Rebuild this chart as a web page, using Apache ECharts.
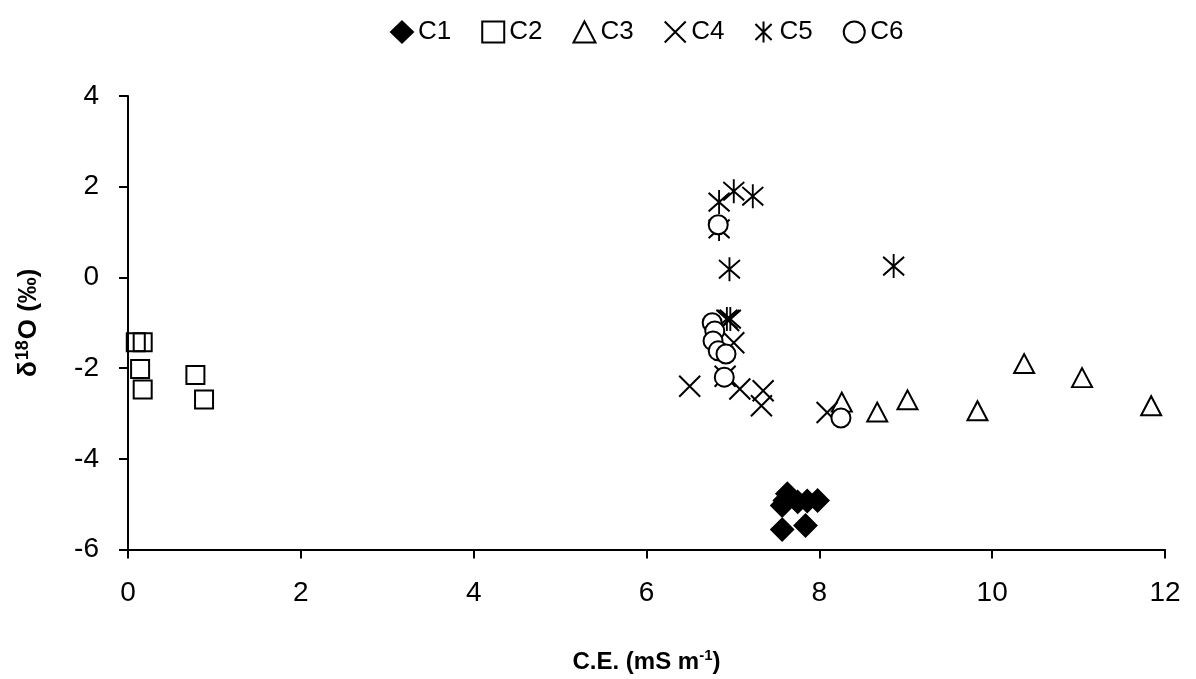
<!DOCTYPE html>
<html>
<head>
<meta charset="utf-8">
<script src="https://cdn.jsdelivr.net/npm/echarts@6/dist/echarts.min.js"></script>
<style>
  html, body { margin: 0; padding: 0; background: #fff; }
  #chart { width: 1196px; height: 679px; }
</style>
</head>
<body>
<div id="chart"></div>
<script>
// C.E. (mS m-1) vs δ18O (‰), one array per group
const c1 = [[7.63, -4.77], [7.57, -5.03], [7.60, -4.92], [7.75, -4.95], [7.86, -4.93], [7.98, -4.92], [7.57, -5.56], [7.84, -5.47]];
const c2 = [[0.09, -1.43], [0.17, -1.43], [0.14, -2.02], [0.17, -2.47], [0.78, -2.15], [0.88, -2.69]];
const c3 = [[8.26, -2.75], [8.67, -2.97], [9.02, -2.70], [9.83, -2.94], [10.37, -1.90], [11.04, -2.21], [11.84, -2.83]];
const c4 = [[6.95, -0.95], [7.01, -1.44], [6.50, -2.40], [6.91, -2.18], [7.08, -2.46], [7.35, -2.50], [7.33, -2.83], [8.09, -2.98]];
const c5 = [[6.84, 1.66], [7.01, 1.90], [7.23, 1.79], [6.84, 1.07], [6.96, 0.18], [6.93, -0.92], [6.97, -0.92], [8.86, 0.25]];
const c6 = [[6.83, 1.16], [6.76, -1.00], [6.79, -1.18], [6.77, -1.40], [6.83, -1.62], [6.92, -1.69], [6.90, -2.20], [8.25, -3.10]];

const xTicks = { min: 0, max: 12, interval: 2 };
const yTicks = { min: -6, max: 4, interval: 2 };

const font = 'Liberation Sans, Arial, sans-serif';
const crossPath = 'path://M0,0L10,10M10,0L0,10';
const starPath = 'path://M0,0L10,10M10,0L0,10M5,-1.5L5,11.5';

function mk(name, data, symbol, size, fill) {
  return {
    name: name,
    type: 'scatter',
    data: data,
    symbol: symbol,
    symbolSize: size,
    itemStyle: { color: fill, borderColor: '#000', borderWidth: 2, opacity: 1 },
    emphasis: { disabled: true }
  };
}

const chart = echarts.init(document.getElementById('chart'), null, { renderer: 'canvas' });
chart.setOption({
  animation: false,
  textStyle: { fontFamily: font },
  legend: {
    top: 14,
    left: 385,
    itemWidth: 22,
    itemHeight: 21,
    itemGap: 30,
    textStyle: { fontSize: 26, color: '#000', fontFamily: font },
    data: ['C1', 'C2', 'C3', 'C4', 'C5', 'C6']
  },
  grid: { left: 128, right: 31, top: 96, bottom: 128, containLabel: false },
  xAxis: {
    type: 'value',
    min: xTicks.min, max: xTicks.max, interval: xTicks.interval,
    name: '{b|C.E. (mS m}{s|-1}{b|)}',
    nameLocation: 'middle',
    nameGap: 99,
    nameTextStyle: {
      rich: {
        b: { fontSize: 24, fontWeight: 'bold', color: '#000', fontFamily: font },
        s: { fontSize: 15, fontWeight: 'bold', color: '#000', fontFamily: font, verticalAlign: 'top', padding: [0, 0, 12, 0] }
      }
    },
    axisLine: { show: true, onZero: false, lineStyle: { color: '#000', width: 2 } },
    axisTick: { show: true, inside: false, length: 9, lineStyle: { color: '#000', width: 2 } },
    axisLabel: { fontSize: 28, color: '#000', margin: 30, fontFamily: font },
    splitLine: { show: false }
  },
  yAxis: {
    type: 'value',
    min: yTicks.min, max: yTicks.max, interval: yTicks.interval,
    name: '{b|δ}{s|18}{b|O (‰)}',
    nameLocation: 'middle',
    nameRotate: 90,
    nameGap: 84,
    nameTextStyle: {
      rich: {
        b: { fontSize: 26, fontWeight: 'bold', color: '#000', fontFamily: font },
        s: { fontSize: 18, fontWeight: 'bold', color: '#000', fontFamily: font, verticalAlign: 'top', padding: [0, 1, 12, 1] }
      }
    },
    axisLine: { show: true, onZero: false, lineStyle: { color: '#000', width: 2 } },
    axisTick: { show: true, inside: false, length: 9, lineStyle: { color: '#000', width: 2 } },
    axisLabel: { fontSize: 28, color: '#000', margin: 29, fontFamily: font },
    splitLine: { show: false }
  },
  series: [
    mk('C1', c1, 'diamond', [22, 22], '#000'),
    mk('C2', c2, 'rect', [18, 18], 'rgba(0,0,0,0)'),
    mk('C3', c3, 'triangle', [20, 19], 'rgba(0,0,0,0)'),
    mk('C4', c4, crossPath, [21, 21], 'rgba(0,0,0,0)'),
    mk('C5', c5, starPath, [21, 24], 'rgba(0,0,0,0)'),
    mk('C6', c6, 'circle', [19, 19], '#fff')
  ]
});
</script>
</body>
</html>
